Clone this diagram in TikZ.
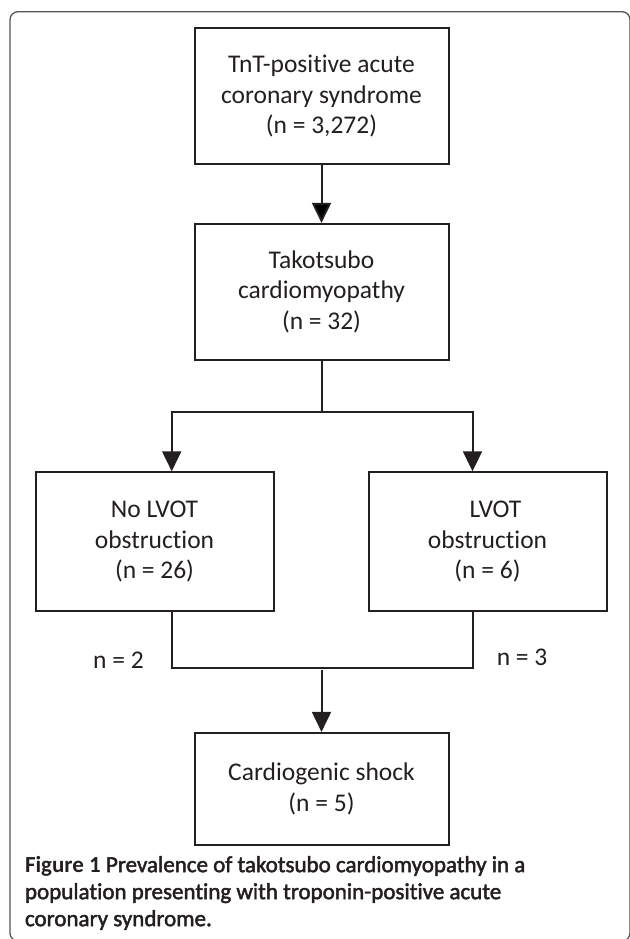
\documentclass[tikz,border=0pt]{standalone}
\usepackage{fontspec}
\setmainfont{Carlito}[Ligatures=NoCommon]
\newfontfamily\capfont{Carlito}[Ligatures=NoCommon,FakeBold=2]
\usepackage{tikz}
\usetikzlibrary{
        arrows.meta,
        positioning
    }
\definecolor{ink}{HTML}{231F20}
\definecolor{rim}{HTML}{555555}
\tikzset{>={Triangle[width=19pt,length=20pt]},node distance=2cm}

\begin{document}
\begin{tikzpicture}[x=1pt,y=1pt,>={Triangle[width=19pt,length=20pt]},line width=2pt]
                \tikzstyle{box}=[draw=ink,text=ink,align=center,minimum width=254pt,minimum height=136pt,font=\fontsize{25.5}{30.5}\selectfont]
                \tikzstyle{side}=[box,minimum width=238pt,minimum height=139pt]
                \tikzstyle{count}=[inner sep=0pt,text=ink,font=\fontsize{25.5}{30.5}\selectfont]
                \useasboundingbox (0,0) rectangle (629,-939);
                \draw[rim,line width=1.3pt,rounded corners=8pt] (10,-11.7) rectangle (630,-941);
                \node[box] (tnt) at (321.5,-96.2) {TnT-positive acute\\coronary syndrome\\(n = 3,272)};
                \node[box] (tako)   [below=57.7pt of tnt]  {Takotsubo\\cardiomyopathy\\(n = 32)};
                \node[side] (nolvot) [below=110.4pt of tako,xshift=-167pt] {No LVOT\\obstruction\\(n = 26)};
                \node[side] (lvot)   [below=110.4pt of tako,xshift=166pt]  {\hspace*{16pt}LVOT\\obstruction\\(n = 6)};
                \coordinate[below=51pt of tako] (split);
                \coordinate[left=149.8pt of split] (splitL);
                \coordinate[right=151pt of split] (splitR);
                \coordinate[below=256pt of split] (join);
                \coordinate (joinL) at (splitL |- join);
                \coordinate (joinR) at (splitR |- join);
                \node[box,minimum height=112pt] (shock) [below=64pt of join] {Cardiogenic shock\\(n = 5)};
                \node[count] (ntwo)   [left=27pt of joinL,yshift=7.6pt]  {n = 2};
                \node[count] (nthree) [right=23.3pt of joinR,yshift=11pt] {n = 3};
                \node[inner sep=0pt,anchor=north west,align=left,text=ink,font=\fontsize{23}{27}\selectfont] (cap) at (24,-855)
                    {{\bfseries Figure 1} {\capfont Prevalence of takotsubo cardiomyopathy in a}\\
                     {\capfont population presenting with troponin-positive acute}\\
                     {\capfont coronary syndrome.}};
                \path[->,draw=ink]
                    (tnt)  edge  (tako);
                \draw[ink] (tako) -- (split);
                \draw[ink,->] (split) -- (splitL) -- (splitL |- nolvot.north);
                \draw[ink,->] (split) -- (splitR) -- (splitR |- lvot.north);
                \draw[ink] (nolvot.south -| splitL) |- (join) -| (lvot.south -| splitR);
                \draw[ink,->,shorten <=2pt] (join) -- (shock);
            \end{tikzpicture}
\end{document}
